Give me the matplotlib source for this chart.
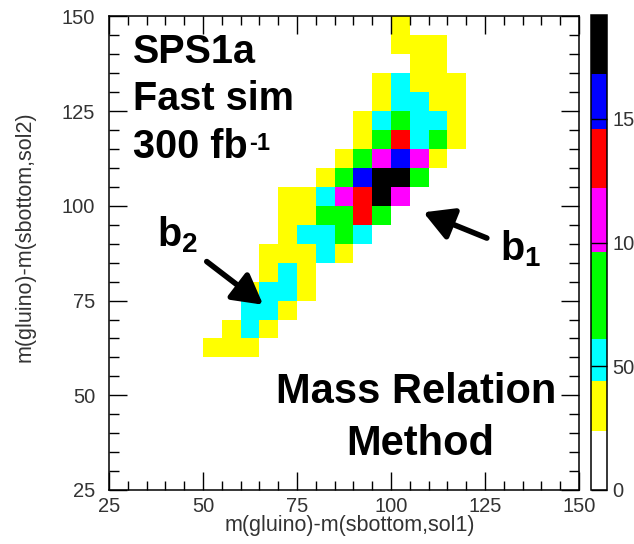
import numpy as np
import matplotlib
matplotlib.use("Agg")
import matplotlib.pyplot as plt
from matplotlib.colors import ListedColormap, BoundaryNorm
from matplotlib.ticker import MultipleLocator

plt.rcParams['font.family'] = ['Liberation Sans', 'DejaVu Sans']
plt.rcParams['mathtext.fontset'] = 'custom'
plt.rcParams['mathtext.rm'] = 'Liberation Sans:bold'
plt.rcParams['mathtext.it'] = 'Liberation Sans:bold'
plt.rcParams['mathtext.bf'] = 'Liberation Sans:bold'

# Histogram binning (5 GeV bins on both axes)
x_bins = np.arange(25, 151, 5)
y_bins = np.arange(25, 151, 5)

# Colour scale levels and palette
levels = [0, 24, 44, 61, 96, 122, 146, 168, 192]
palette = ['#ffffff', '#ffff00', '#00ffff', '#00ff00',
           '#ff00ff', '#ff0000', '#0000ff', '#000000']

# Estimated bin contents, columns x = 50..115 (low edges), rows y = 145..60 (low edges)
block_x0 = 50
block_y_top = 145
counts = [
    [0,  0,  0,  0,  0,  0,  0,  0,  0,  0,   30,  0,   0,   0],   # 145
    [0,  0,  0,  0,  0,  0,  0,  0,  0,  0,   32,  35,  30,  0],   # 140
    [0,  0,  0,  0,  0,  0,  0,  0,  0,  0,   0,   33,  31,  0],   # 135
    [0,  0,  0,  0,  0,  0,  0,  0,  0,  36,  50,  38,  34,  28],  # 130
    [0,  0,  0,  0,  0,  0,  0,  0,  0,  38,  55,  52,  36,  30],  # 125
    [0,  0,  0,  0,  0,  0,  0,  0,  35, 53,  80,  54,  50,  30],  # 120
    [0,  0,  0,  0,  0,  0,  0,  0,  38, 75,  130, 56,  70,  32],  # 115
    [0,  0,  0,  0,  0,  0,  0,  36, 78, 110, 155, 105, 34,  0],   # 110
    [0,  0,  0,  0,  0,  0,  35, 80, 150, 180, 185, 72,  0,   0],  # 105
    [0,  0,  0,  0,  32, 38, 52, 108, 135, 175, 100, 0,  0,   0],  # 100
    [0,  0,  0,  0,  33, 40, 75, 85, 138, 70,  0,   0,   0,   0],  # 95
    [0,  0,  0,  0,  34, 50, 55, 78, 52,  0,   0,   0,   0,   0],  # 90
    [0,  0,  0,  30, 38, 40, 56, 35, 0,   0,   0,   0,   0,   0],  # 85
    [0,  0,  0,  34, 52, 33, 0,  0,  0,   0,   0,   0,   0,   0],  # 80
    [0,  0,  30, 50, 54, 32, 0,  0,  0,   0,   0,   0,   0,   0],  # 75
    [0,  0,  52, 55, 30, 0,  0,  0,  0,   0,   0,   0,   0,   0],  # 70
    [0,  30, 50, 28, 0,  0,  0,  0,  0,   0,   0,   0,   0,   0],  # 65
    [28, 30, 27, 0,  0,  0,  0,  0,  0,   0,   0,   0,   0,   0],  # 60
]

cbar_ticks = [0, 50, 100, 150]
x_label = 'm(gluino)-m(sbottom,sol1)'
y_label = 'm(gluino)-m(sbottom,sol2)'

# Fill the full 25x25 histogram
H = np.zeros((len(y_bins) - 1, len(x_bins) - 1))
ix0 = int((block_x0 - x_bins[0]) / 5)
for r, row in enumerate(counts):
    iy = int((block_y_top - y_bins[0]) / 5) - r
    H[iy, ix0:ix0 + len(row)] = row

cmap = ListedColormap(palette)
norm = BoundaryNorm(levels, cmap.N)

fig = plt.figure(figsize=(6.34, 5.44), dpi=100)
ax = fig.add_axes([0.1719, 0.0993, 0.7413, 0.8704])
cax = fig.add_axes([0.9317, 0.0993, 0.0252, 0.8732])

mesh = ax.pcolormesh(x_bins, y_bins, H, cmap=cmap, norm=norm)
ax.set_xlim(25, 150)
ax.set_ylim(25, 150)

grey = '#333333'
for a in (ax.xaxis, ax.yaxis):
    a.set_major_locator(MultipleLocator(25))
    a.set_minor_locator(MultipleLocator(5))
ax.tick_params(which='both', direction='in', top=True, right=True,
               width=1.0, colors='black', labelcolor=grey, labelsize=14.5)
ax.tick_params(axis='x', which='major', length=13, pad=5)
ax.tick_params(axis='x', which='minor', length=6.5)
ax.tick_params(axis='y', which='major', length=13, pad=10)
ax.tick_params(axis='y', which='minor', length=7)
for s in ax.spines.values():
    s.set_linewidth(1.1)

ax.set_xlabel(x_label, fontsize=15.5, color=grey)
ax.xaxis.set_label_coords(0.513, -0.074)
ax.xaxis.label.set_va('center')
ax.set_ylabel(y_label, fontsize=15.5, color=grey)
ax.yaxis.set_label_coords(-0.179, 0.534)
ax.yaxis.label.set_va('center')

cb = fig.colorbar(mesh, cax=cax, spacing='proportional', ticks=cbar_ticks)
cb.outline.set_linewidth(1.1)
cax.tick_params(direction='in', length=11.5, width=1.0, pad=4,
                labelsize=14.5, labelcolor=grey)
cax.minorticks_off()

big = dict(fontsize=28.5, fontweight='bold', color='black', va='baseline')
ax.text(31.4, 137.8, 'SPS1a', **big)
ax.text(31.4, 125.3, 'Fast sim', **big)
t300 = ax.text(31.4, 112.7, '300 fb', **big)
ax.annotate('-1', xy=(1, 1), xycoords=t300, xytext=(1, -4),
            textcoords='offset pixels', ha='left', va='top',
            fontsize=17, fontweight='bold', color='black')
mass = dict(big, fontsize=30)
ax.text(106.6, 48.0, 'Mass Relation', ha='center', **mass)
ax.text(107.7, 34.2, 'Method', ha='center', **mass)
ax.text(37.8, 89.4, 'b$_2$', **big)
ax.text(129.0, 85.5, 'b$_1$', **big)

arrow = dict(arrowstyle='-|>,head_length=0.9,head_width=0.5', lw=4,
             color='black', shrinkA=0, shrinkB=0, mutation_scale=20)
ax.annotate('', xy=(66.0, 73.9), xytext=(51.0, 85.3), arrowprops=arrow)
ax.annotate('', xy=(108.6, 98.3), xytext=(125.5, 91.5), arrowprops=arrow)

fig.savefig('out.png', dpi=100)
